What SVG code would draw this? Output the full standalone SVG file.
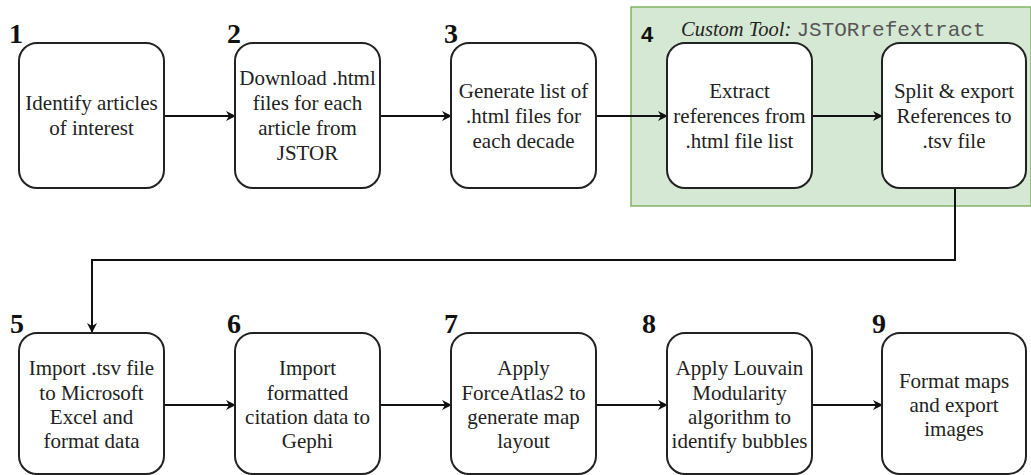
<svg xmlns="http://www.w3.org/2000/svg" width="1031" height="475" viewBox="0 0 1031 475">
<style>
.box{fill:#fff;stroke:#222;stroke-width:2}
.t{font-family:"Liberation Serif","Times New Roman",serif;font-size:21px;fill:#222;text-anchor:middle}
.num{font-family:"Liberation Serif","Times New Roman",serif;font-size:28px;font-weight:bold;fill:#111}
.c{fill:none;stroke:#111;stroke-width:2}
</style>
<defs>
<marker id="arr" viewBox="0 0 10 10" refX="9" refY="5" markerWidth="10" markerHeight="10" markerUnits="userSpaceOnUse" orient="auto">
<path d="M0,0 L10,5 L0,10 L3,5 Z" fill="#111"/>
</marker>
</defs>
<rect x="631" y="7" width="400" height="199" fill="#d5e8d4" stroke="#82b366" stroke-width="1.5"/>
<text x="641" y="42" font-family="Liberation Sans,Arial,sans-serif" font-size="22" font-weight="bold" fill="#111">4</text>
<text x="681" y="36" font-family="Liberation Serif,serif" font-size="20.5" font-style="italic" fill="#222">Custom Tool: <tspan font-family="Liberation Mono,Courier New,monospace" font-style="normal" font-size="21" fill="#555">JSTORrefextract</tspan></text>
<g id="connectors">
<line class="c" x1="164" y1="116" x2="235" y2="116" marker-end="url(#arr)"/>
<line class="c" x1="380" y1="116" x2="451" y2="116" marker-end="url(#arr)"/>
<line class="c" x1="596" y1="116" x2="667" y2="116" marker-end="url(#arr)"/>
<line class="c" x1="812" y1="116" x2="882" y2="116" marker-end="url(#arr)"/>
<path class="c" d="M955,188 V260 H92 V332" marker-end="url(#arr)"/>
<line class="c" x1="164" y1="405" x2="235" y2="405" marker-end="url(#arr)"/>
<line class="c" x1="380" y1="405" x2="451" y2="405" marker-end="url(#arr)"/>
<line class="c" x1="596" y1="405" x2="667" y2="405" marker-end="url(#arr)"/>
<line class="c" x1="812" y1="405" x2="882" y2="405" marker-end="url(#arr)"/>
</g>
<g id="n1"><text class="num" x="9" y="43">1</text><rect class="box" x="19" y="43" width="145" height="145" rx="18"/><text class="t" x="91.5" y="110">Identify articles</text><text class="t" x="91.5" y="135">of interest</text></g>
<g id="n2"><text class="num" x="227" y="43">2</text><rect class="box" x="235" y="43" width="145" height="145" rx="18"/><text class="t" x="307.5" y="85">Download .html</text><text class="t" x="307.5" y="110">files for each</text><text class="t" x="307.5" y="135">article from</text><text class="t" x="307.5" y="160">JSTOR</text></g>
<g id="n3"><text class="num" x="444" y="43">3</text><rect class="box" x="451" y="43" width="145" height="145" rx="18"/><text class="t" x="523.5" y="98">Generate list of</text><text class="t" x="523.5" y="123">.html files for</text><text class="t" x="523.5" y="148">each decade</text></g>
<g id="n4a"><rect class="box" x="667" y="43" width="145" height="145" rx="18"/><text class="t" x="739.5" y="98">Extract</text><text class="t" x="739.5" y="123">references from</text><text class="t" x="739.5" y="148">.html file list</text></g>
<g id="n4b"><rect class="box" x="882" y="43" width="144" height="145" rx="18"/><text class="t" x="954" y="98">Split &amp; export</text><text class="t" x="954" y="123">References to</text><text class="t" x="954" y="148">.tsv file</text></g>
<g id="n5"><text class="num" x="10" y="333">5</text><rect class="box" x="19" y="333" width="145" height="141" rx="18"/><text class="t" x="91.5" y="375">Import .tsv file</text><text class="t" x="91.5" y="400">to Microsoft</text><text class="t" x="91.5" y="424">Excel and</text><text class="t" x="91.5" y="448">format data</text></g>
<g id="n6"><text class="num" x="227" y="333">6</text><rect class="box" x="235" y="333" width="145" height="141" rx="18"/><text class="t" x="307.5" y="375">Import</text><text class="t" x="307.5" y="400">formatted</text><text class="t" x="307.5" y="424">citation data to</text><text class="t" x="307.5" y="448">Gephi</text></g>
<g id="n7"><text class="num" x="444" y="333">7</text><rect class="box" x="451" y="333" width="145" height="141" rx="18"/><text class="t" x="523.5" y="375">Apply</text><text class="t" x="523.5" y="400">ForceAtlas2 to</text><text class="t" x="523.5" y="424">generate map</text><text class="t" x="523.5" y="448">layout</text></g>
<g id="n8"><text class="num" x="642" y="333">8</text><rect class="box" x="667" y="333" width="145" height="141" rx="18"/><text class="t" x="739.5" y="375">Apply Louvain</text><text class="t" x="739.5" y="400">Modularity</text><text class="t" x="739.5" y="424">algorithm to</text><text class="t" x="739.5" y="448">identify bubbles</text></g>
<g id="n9"><text class="num" x="872" y="333">9</text><rect class="box" x="882" y="333" width="144" height="141" rx="18"/><text class="t" x="954" y="388">Format maps</text><text class="t" x="954" y="412">and export</text><text class="t" x="954" y="436">images</text></g>
</svg>
